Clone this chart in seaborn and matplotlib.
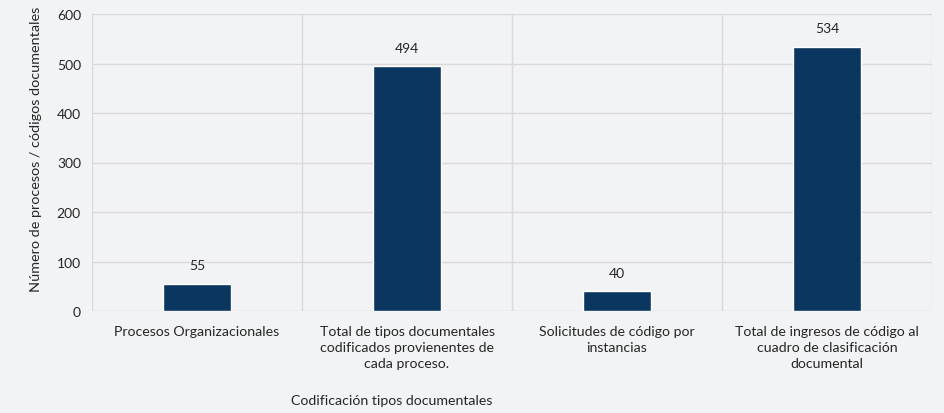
import matplotlib
matplotlib.use("Agg")
import matplotlib.pyplot as plt
import seaborn as sns
import pandas as pd
import numpy as np

categories = [
    "Procesos Organizacionales",
    "Total de tipos documentales\ncodificados provienentes de\ncada proceso.",
    "Solicitudes de código por\ninstancias",
    "Total de ingresos de código al\ncuadro de clasificación\ndocumental",
]
values = [55, 494, 40, 534]
y_ticks = [0, 100, 200, 300, 400, 500, 600]

sns.set_theme(style="white")
plt.rcParams['font.family'] = ['Lato', 'DejaVu Sans']

bg = "#f2f3f5"
bar_color = "#0b365f"
grid_color = "#d9d9d9"
text_color = "#262626"

df = pd.DataFrame({"cat": categories, "val": values})

fig = plt.figure(figsize=(9.44, 4.14), dpi=100, facecolor=bg)
ax = fig.add_axes([92/944, 1 - 312/414, 840/944, 297/414])
ax.set_facecolor(bg)

sns.barplot(data=df, x="cat", y="val", color=bar_color, width=0.32, ax=ax, zorder=3, saturation=1)

ax.set_ylim(0, 600)
ax.set_xlim(-0.5, 3.5)
ax.set_yticks(y_ticks)
ax.set_yticklabels([str(t) for t in y_ticks], fontsize=10, color=text_color)
ax.set_xticks(range(len(categories)))
ax.set_xticklabels(categories, fontsize=10.2, color=text_color, linespacing=1.4, va="top")
ax.tick_params(axis="both", length=0, pad=8)
ax.tick_params(axis="x", pad=10)

ax.set_xticks([-0.5, 0.5, 1.5, 2.5, 3.5], minor=True)
ax.grid(True, axis="y", which="major", color=grid_color, linewidth=1, zorder=0)
ax.grid(True, axis="x", which="minor", color=grid_color, linewidth=1, zorder=0)
ax.tick_params(axis="x", which="minor", length=0)
for s in ax.spines.values():
    s.set_visible(False)

for i, v in enumerate(values):
    ax.annotate(str(v), (i, v), xytext=(0, 9), textcoords="offset points",
                ha="center", va="bottom", fontsize=10, color=text_color)

ax.set_ylabel("Número de procesos / códigos documentales", fontsize=10.4, color=text_color)
ax.yaxis.set_label_coords(-(92 - 42) / 840, (312 - 149) / 297)
ax.set_xlabel("Codificación tipos documentales", fontsize=10.2, color=text_color)
ax.xaxis.set_label_coords((392 - 92) / 840, -(395 - 312) / 297)

fig.savefig("out.png", dpi=100, facecolor=bg)
